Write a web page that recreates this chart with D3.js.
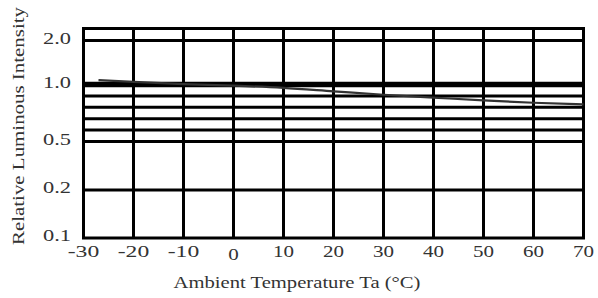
<!DOCTYPE html>
<html>
<head>
<meta charset="utf-8">
<script src="https://cdn.jsdelivr.net/npm/d3@7"></script>
<style>
  body { margin: 0; background: #fff; }
  text { font-family: "Liberation Serif", "DejaVu Serif", serif; fill: #333; }
</style>
</head>
<body>
<div id="chart"></div>
<script>
// chart values
var xTicks = [-30, -20, -10, 0, 10, 20, 30, 40, 50, 60, 70];
var yTickLabels = ["0.1", "0.2", "0.5", "1.0", "2.0"];
var yGrid = [0.2, 0.5, 0.6, 0.7, 0.8, 0.9, 1.0, 2.0];
var tempC = [-27, -20, -10, 0, 10, 20, 30, 40, 50, 60, 70];
var relIntensity = [1.10, 1.06, 1.01, 0.99, 0.97, 0.94, 0.91, 0.885, 0.86, 0.84, 0.825];

var svgWidth = 598;
var svgHeight = 298;

var svg = d3.select("#chart")
  .append("svg")
  .attr("width", svgWidth)
  .attr("height", svgHeight);

var x = d3.scaleLinear()
  .domain([-30, 70])
  .range([83.5, 583.5]);

// the printed axis is not a true log axis, so map the labelled values piecewise
var y = d3.scaleLinear()
  .domain([0.1, 0.2, 0.5, 1.0, 2.0, 2.27])
  .range([238, 190, 141.5, 84.5, 40.5, 28.5]);

// vertical grid
svg.append("g")
  .selectAll("line")
  .data(xTicks)
  .enter()
  .append("line")
  .attr("x1", d => x(d))
  .attr("x2", d => x(d))
  .attr("y1", y(2.27))
  .attr("y2", y(0.1))
  .attr("stroke", "#000")
  .attr("stroke-width", 3);

// horizontal grid
svg.append("g")
  .selectAll("line")
  .data(yGrid)
  .enter()
  .append("line")
  .attr("x1", x(-30))
  .attr("x2", x(70))
  .attr("y1", d => y(d))
  .attr("y2", d => y(d))
  .attr("stroke", "#000")
  .attr("stroke-width", d => d === 1.0 ? 5.5 : 3);

// frame
svg.append("rect")
  .attr("x", x(-30))
  .attr("y", y(2.27))
  .attr("width", x(70) - x(-30))
  .attr("height", y(0.1) - y(2.27))
  .attr("fill", "none")
  .attr("stroke", "#000")
  .attr("stroke-width", 3);

// curve
var line = d3.line()
  .x((d, i) => x(tempC[i]))
  .y(d => y(d))
  .curve(d3.curveMonotoneX);

svg.append("path")
  .datum(relIntensity)
  .attr("d", line)
  .attr("fill", "none")
  .attr("stroke", "#333")
  .attr("stroke-width", 2.2);

// y tick labels
svg.append("g")
  .selectAll("text")
  .data(yTickLabels)
  .enter()
  .append("text")
  .attr("x", 71)
  .attr("y", d => y(+d) + 3)
  .attr("text-anchor", "end")
  .attr("font-size", 17)
  .attr("textLength", 28)
  .attr("lengthAdjust", "spacingAndGlyphs")
  .text(d => d);

// x tick labels
svg.append("g")
  .selectAll("text")
  .data(xTicks)
  .enter()
  .append("text")
  .attr("x", d => x(d))
  .attr("y", d => d === 0 ? 260 : 257)
  .attr("text-anchor", "middle")
  .attr("font-size", 17)
  .attr("textLength", d => String(d).length * 10.5)
  .attr("lengthAdjust", "spacingAndGlyphs")
  .text(d => d);

// axis titles
svg.append("text")
  .attr("x", 297)
  .attr("y", 288)
  .attr("text-anchor", "middle")
  .attr("font-size", 17)
  .attr("textLength", 247)
  .attr("lengthAdjust", "spacingAndGlyphs")
  .text("Ambient Temperature Ta (\u00b0C)");

svg.append("text")
  .attr("transform", "translate(24, 126) rotate(-90)")
  .attr("text-anchor", "middle")
  .attr("font-size", 16)
  .attr("textLength", 238)
  .attr("lengthAdjust", "spacingAndGlyphs")
  .text("Relative Luminous Intensity");
</script>
</body>
</html>
